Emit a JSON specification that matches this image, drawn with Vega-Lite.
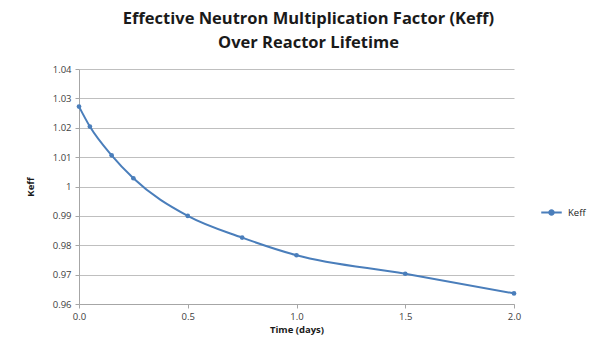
{
  "$schema": "https://vega.github.io/schema/vega-lite/v6.json",
  "width": 435,
  "height": 235,
  "autosize": {"type": "none"},
  "padding": {"left": 79, "top": 69, "right": 89, "bottom": 49},
  "background": "white",
  "config": {
    "font": "Open Sans",
    "view": {"stroke": null}
  },
  "title": {
    "text": ["Effective Neutron Multiplication Factor (Keff)", "Over Reactor Lifetime"],
    "font": "Open Sans",
    "fontSize": 16.5,
    "fontWeight": "bold",
    "color": "#1a1a1a",
    "anchor": "middle",
    "lineHeight": 24,
    "offset": 13,
    "dx": 12
  },
  "data": {
    "values": [
      {"time": 0.0, "keff": 1.0272, "series": "Keff"},
      {"time": 0.05, "keff": 1.0204, "series": "Keff"},
      {"time": 0.15, "keff": 1.0106, "series": "Keff"},
      {"time": 0.25, "keff": 1.0028, "series": "Keff"},
      {"time": 0.5, "keff": 0.990, "series": "Keff"},
      {"time": 0.75, "keff": 0.9826, "series": "Keff"},
      {"time": 1.0, "keff": 0.9766, "series": "Keff"},
      {"time": 1.5, "keff": 0.9703, "series": "Keff"},
      {"time": 2.0, "keff": 0.9636, "series": "Keff"}
    ]
  },
  "mark": {"type": "line", "interpolate": "monotone", "strokeWidth": 2, "point": {"size": 22, "filled": true}},
  "encoding": {
    "x": {
      "field": "time",
      "type": "quantitative",
      "scale": {"domain": [0, 2], "nice": false, "zero": false},
      "axis": {
        "title": "Time (days)",
        "titleFontSize": 9.5,
        "titleFontWeight": "bold",
        "titleColor": "#1a1a1a",
        "titlePadding": 4,
        "values": [0, 0.5, 1.0, 1.5, 2.0],
        "format": ".1f",
        "labelFlush": false,
        "labelFontSize": 9.5,
        "labelColor": "#404040",
        "labelPadding": 3,
        "grid": false,
        "domainColor": "#a6a6a6",
        "tickColor": "#a6a6a6",
        "tickSize": 4
      }
    },
    "y": {
      "field": "keff",
      "type": "quantitative",
      "scale": {"domain": [0.96, 1.04], "nice": false, "zero": false},
      "axis": {
        "title": "Keff",
        "titleFontSize": 9.5,
        "titleFontWeight": "bold",
        "titleColor": "#1a1a1a",
        "titlePadding": 17,
        "values": [0.96, 0.97, 0.98, 0.99, 1.0, 1.01, 1.02, 1.03, 1.04],
        "labelExpr": "datum.value == 1 ? '1' : format(datum.value, '.2f')",
        "labelFlush": false,
        "labelFontSize": 9.5,
        "labelColor": "#404040",
        "labelPadding": 4,
        "gridColor": "#bfbfbf",
        "domainColor": "#a6a6a6",
        "tickColor": "#a6a6a6",
        "tickSize": 4
      }
    },
    "color": {
      "field": "series",
      "type": "nominal",
      "scale": {"range": ["#4a7ebb"]},
      "legend": {
        "title": null,
        "orient": "none",
        "legendX": 461,
        "legendY": 132,
        "symbolType": "M-1,0H1M-0.22,0a0.22,0.22 0 1,0 0.44,0a0.22,0.22 0 1,0 -0.44,0",
        "symbolSize": 420,
        "symbolStrokeWidth": 2,
        "labelFontSize": 9.5,
        "labelColor": "#1a1a1a",
        "labelOffset": 5
      }
    }
  }
}
